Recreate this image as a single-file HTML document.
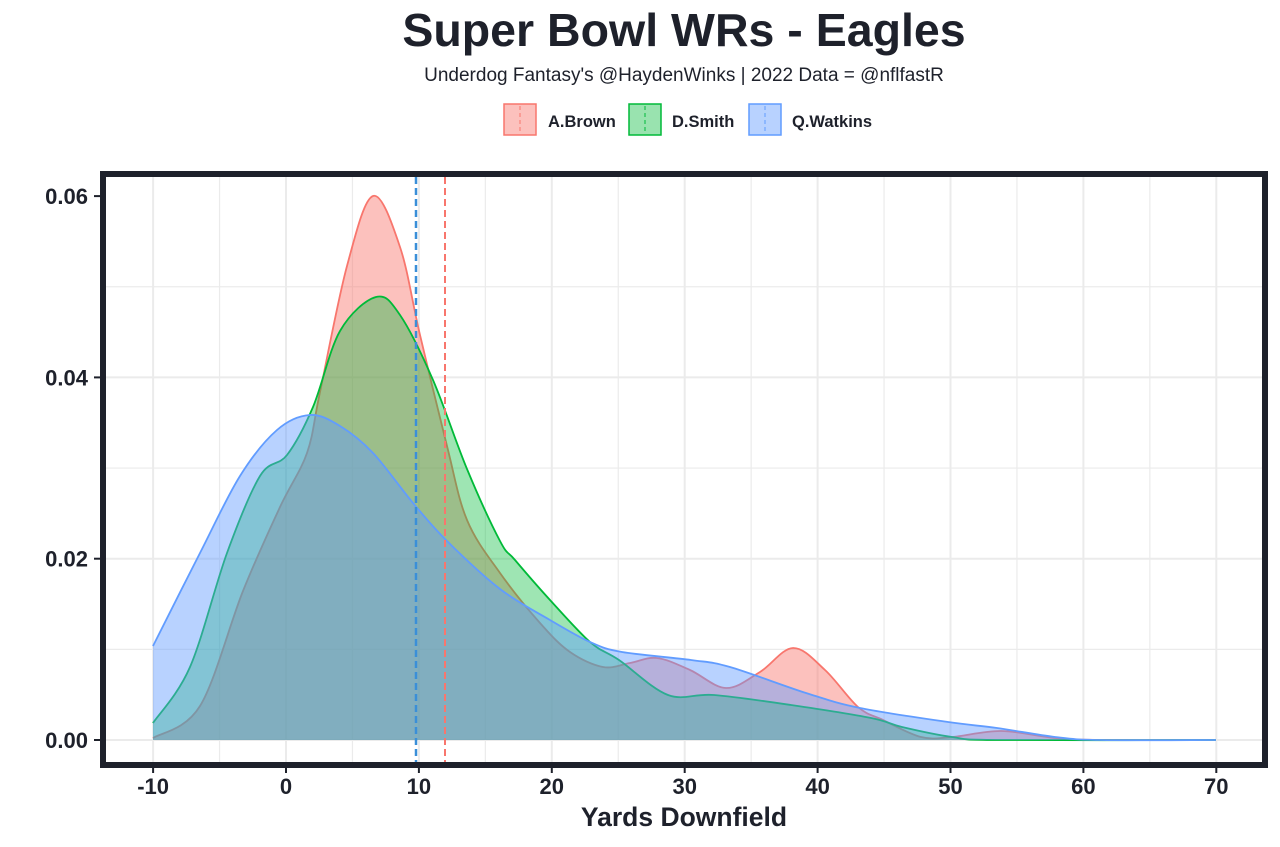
<!DOCTYPE html>
<html><head><meta charset="utf-8"><style>
body{margin:0;background:#fff;width:1280px;height:842px;overflow:hidden;font-family:"Liberation Sans",sans-serif;}
</style></head><body>
<svg id="s" width="1280" height="842" xmlns="http://www.w3.org/2000/svg" font-family="Liberation Sans, sans-serif">
<text x="684" y="46" text-anchor="middle" font-size="46.5" font-weight="bold" fill="#1e212b">Super Bowl WRs - Eagles</text>
<text x="684" y="81" text-anchor="middle" font-size="19" fill="#1e212b">Underdog Fantasy's @HaydenWinks | 2022 Data = @nflfastR</text>
<g font-size="16.5" font-weight="bold" fill="#1e212b">
<rect x="504" y="104" width="32" height="31" fill="#F8766D" fill-opacity="0.45" stroke="#F8766D" stroke-width="1.5"/>
<line x1="520" y1="106" x2="520" y2="133" stroke="#F8766D" stroke-dasharray="4,3"/>
<text x="548" y="127">A.Brown</text>
<rect x="629" y="104" width="32" height="31" fill="#00BA38" fill-opacity="0.4" stroke="#00BA38" stroke-width="1.5"/>
<line x1="645" y1="106" x2="645" y2="133" stroke="#00BA38" stroke-dasharray="4,3"/>
<text x="672" y="127">D.Smith</text>
<rect x="749" y="104" width="32" height="31" fill="#619CFF" fill-opacity="0.45" stroke="#619CFF" stroke-width="1.5"/>
<line x1="765" y1="106" x2="765" y2="133" stroke="#619CFF" stroke-dasharray="4,3"/>
<text x="792" y="127">Q.Watkins</text>
</g>
<g id="grid"></g>
<g id="curves"></g>
<line x1="416" y1="177" x2="416" y2="764" stroke="#3a8fd8" stroke-width="2.5" stroke-dasharray="7,4"/>
<line x1="445" y1="177" x2="445" y2="764" stroke="#F8766D" stroke-width="2" stroke-dasharray="7,4"/>
<rect x="103" y="174" width="1162" height="591" fill="none" stroke="#1e212b" stroke-width="6"/>
<g id="ticks" font-size="22" font-weight="bold" fill="#1e212b"></g>
<text x="684" y="826" text-anchor="middle" font-size="26.5" font-weight="bold" fill="#1e212b">Yards Downfield</text>
</svg>
<script>
const NS="http://www.w3.org/2000/svg";
function el(p,t,a,txt){const e=document.createElementNS(NS,t);for(const k in a)e.setAttribute(k,a[k]);if(txt!==undefined)e.textContent=txt;document.getElementById(p).appendChild(e);return e;}
const X=v=>286+v*13.29, Y=v=>740-v*9065;
for(let v=-10;v<=70;v+=5){el('grid','line',{x1:X(v),x2:X(v),y1:177,y2:763,stroke:'#ebebeb','stroke-width':v%10==0?2:1.2});}
for(let v=0;v<=0.06;v+=0.01){const y=Y(v);el('grid','line',{x1:106,x2:1262,y1:y,y2:y,stroke:'#ebebeb','stroke-width':Math.round(v*100)%2==0?2:1.2});}
for(let v=-10;v<=70;v+=10){el('ticks','line',{x1:X(v),x2:X(v),y1:767,y2:773,stroke:'#1e212b','stroke-width':2});el('ticks','text',{x:X(v),y:794,'text-anchor':'middle'},String(v));}
[0,0.02,0.04,0.06].forEach(v=>{el('ticks','line',{x1:94,x2:100,y1:Y(v),y2:Y(v),stroke:'#1e212b','stroke-width':2});el('ticks','text',{x:88,y:Y(v)+8,'text-anchor':'end'},v.toFixed(2));});
function path(p){let d='M'+p[0][0]+','+p[0][1];for(let i=0;i<p.length-1;i++){const p0=p[i-1]||p[i],p1=p[i],p2=p[i+1],p3=p[i+2]||p2;d+=' C'+(p1[0]+(p2[0]-p0[0])/6)+','+(p1[1]+(p2[1]-p0[1])/6)+' '+(p2[0]-(p3[0]-p1[0])/6)+','+(p2[1]-(p3[1]-p1[1])/6)+' '+p2[0]+','+p2[1];}return d;}
const red=[[153,738],[200,706],[243,591],[280,507],[307,453],[320,392],[347,266],[373,196],[400,247],[420,335],[447,446],[467,520],[500,573],[540,623],[570,652],[603,667],[630,663],[657,658],[690,670],[726,688],[760,672],[793,648],[825,670],[858,707],[883,720],[921,737],[952,737],[1001,731],[1055,738],[1100,740],[1216,740]];
const green=[[153,723],[190,667],[227,553],[260,476],[287,455],[313,407],[340,331],[376,297],[400,315],[433,380],[467,469],[500,541],[515,560],[550,600],[590,642],[619,660],[668,695],[714,695],[791,705],[871,718],[902,727],[952,737],[997,740],[1216,740]];
const blue=[[153,646],[200,553],[240,476],[277,430],[310,415],[340,426],[373,453],[413,503],[447,541],[500,589],[550,620],[590,642],[622,652],[691,660],[730,667],[806,693],[860,708],[948,722],[997,728],[1055,737],[1100,740],[1216,740]];
[[red,'#F8766D',0.45],[green,'#00BA38',0.38],[blue,'#619CFF',0.45]].forEach(([p,c,o])=>{const d=path(p);el('curves','path',{d:d+' L1216,740 L153,740 Z',fill:c,'fill-opacity':o,stroke:'none'});el('curves','path',{d:d,fill:'none',stroke:c,'stroke-width':1.8});});
</script>
</body></html>
